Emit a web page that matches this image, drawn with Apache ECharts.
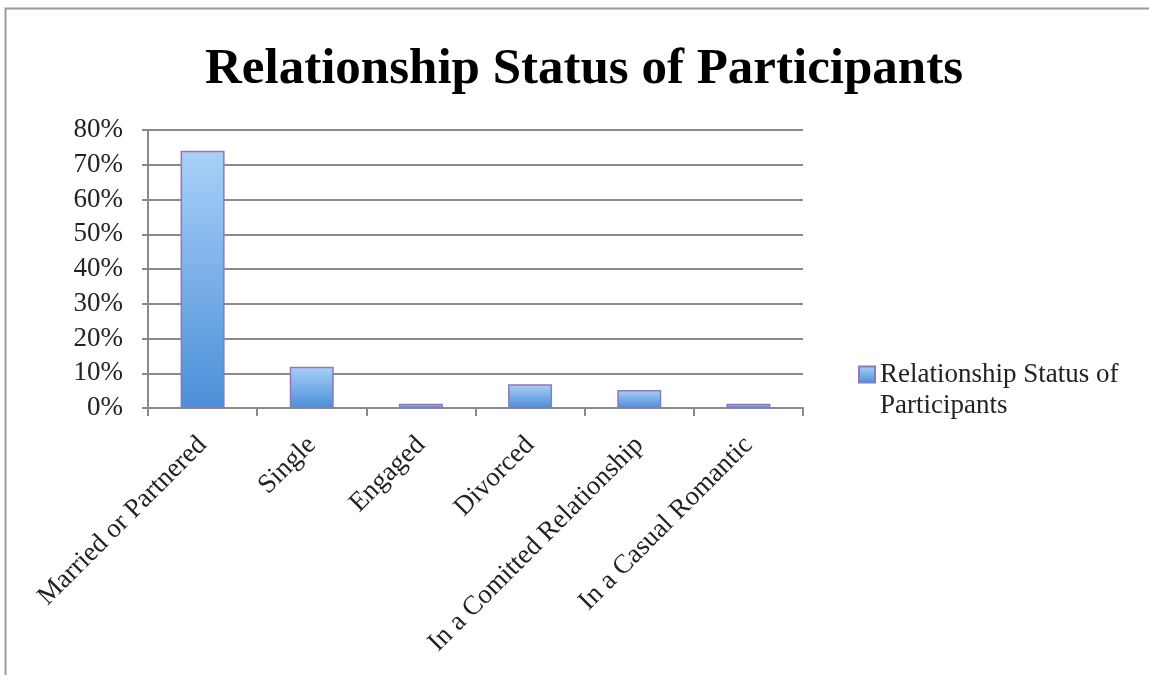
<!DOCTYPE html>
<html>
<head>
<meta charset="utf-8">
<script src="https://cdn.jsdelivr.net/npm/echarts@6/dist/echarts.min.js"></script>
<style>html,body{margin:0;padding:0;background:#fff}#c{width:1149px;height:675px}</style>
</head>
<body>
<div id="c"></div>
<script>
const titleText = 'Relationship Status of Participants';
const seriesName = 'Relationship Status of Participants';
const categories = ['Married or Partnered', 'Single', 'Engaged', 'Divorced', 'In a Comitted Relationship', 'In a Casual Romantic'];
const values = [0.74, 0.119, 0.012, 0.068, 0.052, 0.012];
const yTicks = [0, 0.1, 0.2, 0.3, 0.4, 0.5, 0.6, 0.7, 0.8];

const font = '"Liberation Serif", "DejaVu Serif", serif';
const chart = echarts.init(document.getElementById('c'));
chart.setOption({
  animation: false,
  backgroundColor: '#fff',
  graphic: [{
    type: 'rect', shape: {x: 5.5, y: 8.5, width: 1300, height: 800},
    style: {fill: 'none', stroke: '#9a9a9a', lineWidth: 2}, silent: true
  }],
  title: {
    text: titleText, left: 579, textAlign: 'center', top: 39,
    textStyle: {fontFamily: font, fontWeight: 'bold', fontSize: 51, color: '#000'}
  },
  legend: {
    left: 853, top: 323, orient: 'vertical', icon: 'rect', itemWidth: 16, itemHeight: 16, itemGap: 4,
    formatter: () => '\nRelationship Status of\nParticipants',
    textStyle: {fontFamily: font, fontSize: 27, color: '#222', lineHeight: 31}
  },
  grid: {left: 148, right: 346, top: 130, bottom: 267},
  xAxis: {
    type: 'category', data: categories,
    axisLine: {lineStyle: {color: '#8a8a8a', width: 2}},
    axisTick: {show: true, length: 8, lineStyle: {color: '#8a8a8a', width: 2}},
    axisLabel: {rotate: 45, interval: 0, margin: 33, fontFamily: font, fontSize: 27, color: '#222'}
  },
  yAxis: {
    type: 'value', min: 0, max: 0.8, interval: 0.1,
    axisLine: {show: true, lineStyle: {color: '#8a8a8a', width: 2}},
    axisTick: {show: true, length: 6, lineStyle: {color: '#8a8a8a', width: 2}},
    splitLine: {lineStyle: {color: '#8a8a8a', width: 2}},
    axisLabel: {margin: 25, fontFamily: font, fontSize: 27, color: '#222',
      formatter: v => Math.round(v * 100) + '%'}
  },
  series: [{
    name: seriesName, type: 'bar', data: values, barWidth: 44,
    itemStyle: {
      color: new echarts.graphic.LinearGradient(0, 0, 0, 1, [
        {offset: 0, color: '#a9d0f8'}, {offset: 1, color: '#4b8fd8'}
      ]),
      borderColor: '#8a78c0', borderWidth: 1.5
    }
  }]
});
</script>
</body>
</html>
